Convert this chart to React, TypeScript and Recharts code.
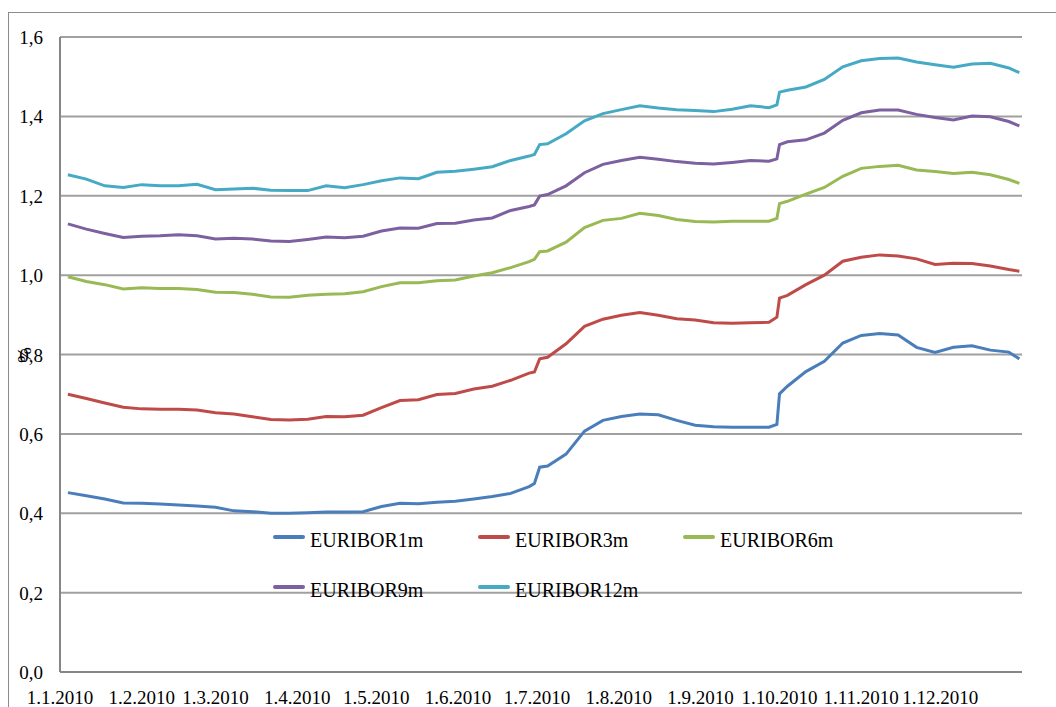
import { CartesianGrid, Line, LineChart, XAxis, YAxis } from 'recharts';

// sample dates (d.m of 2010), read off the reference roughly weekly + around the jumps
const dates = [
  '4.1', '11.1', '18.1', '25.1', '1.2', '8.2', '15.2', '22.2', '1.3', '8.3', '15.3', '22.3', '29.3',
  '5.4', '12.4', '19.4', '26.4', '3.5', '10.5', '17.5', '24.5', '31.5', '7.6', '14.6', '21.6', '28.6',
  '30.6', '2.7',
  '5.7', '12.7', '19.7', '26.7', '2.8', '9.8', '16.8', '23.8', '30.8', '6.9', '13.9', '20.9', '27.9',
  '30.9', '1.10',
  '4.10', '11.10', '18.10', '25.10', '1.11', '8.11', '15.11', '22.11', '29.11', '6.12', '13.12', '20.12', '27.12',
  '31.12',
];

const euribor1m = [
  0.452, 0.444, 0.436, 0.426, 0.425, 0.423, 0.421, 0.418, 0.415, 0.406, 0.404, 0.4, 0.4,
  0.401, 0.403, 0.403, 0.404, 0.417, 0.425, 0.424, 0.428, 0.43, 0.436, 0.442, 0.45, 0.467,
  0.475, 0.516,
  0.519, 0.549, 0.607, 0.634, 0.644, 0.65, 0.648, 0.634, 0.622, 0.618, 0.617, 0.617, 0.617,
  0.624, 0.701,
  0.72, 0.757, 0.783, 0.829, 0.848, 0.853, 0.849, 0.818, 0.805, 0.818, 0.822, 0.811, 0.806,
  0.789,
];

const euribor3m = [
  0.7, 0.689, 0.678, 0.667, 0.663, 0.662, 0.662, 0.66, 0.653, 0.65, 0.643, 0.636, 0.635,
  0.637, 0.644, 0.643, 0.647, 0.666, 0.684, 0.686, 0.699, 0.702, 0.713, 0.72, 0.735, 0.753,
  0.756, 0.789,
  0.793, 0.827, 0.871, 0.889, 0.899, 0.906, 0.899, 0.89, 0.887, 0.88, 0.879, 0.88, 0.881,
  0.894, 0.942,
  0.949, 0.976, 1.0, 1.035, 1.045, 1.051, 1.048, 1.041, 1.027, 1.03, 1.029, 1.023, 1.014,
  1.01,
];

const euribor6m = [
  0.996, 0.984, 0.976, 0.965, 0.968, 0.966, 0.966, 0.964, 0.957, 0.956, 0.952, 0.945, 0.944,
  0.949, 0.952, 0.953, 0.958, 0.971, 0.981, 0.981, 0.986, 0.988, 0.998, 1.006, 1.019, 1.034,
  1.04, 1.059,
  1.061, 1.083, 1.12, 1.138, 1.143, 1.156, 1.15, 1.14, 1.135, 1.134, 1.136, 1.136, 1.136,
  1.143, 1.18,
  1.186, 1.204, 1.221, 1.249, 1.269, 1.274, 1.277, 1.265, 1.261, 1.256, 1.259, 1.253, 1.241,
  1.231,
];

const euribor9m = [
  1.129, 1.116, 1.105, 1.095, 1.098, 1.099, 1.102, 1.099, 1.091, 1.093, 1.091, 1.086, 1.085,
  1.09, 1.096, 1.094, 1.098, 1.111, 1.119, 1.118, 1.13, 1.131, 1.139, 1.144, 1.163, 1.173,
  1.177, 1.199,
  1.203, 1.225, 1.258, 1.279, 1.289, 1.297, 1.292, 1.286, 1.282, 1.28, 1.284, 1.289, 1.287,
  1.293, 1.329,
  1.336, 1.341, 1.358, 1.39, 1.409, 1.416, 1.416, 1.405, 1.397, 1.391, 1.401, 1.399, 1.387,
  1.376,
];

const euribor12m = [
  1.253, 1.242, 1.225, 1.221, 1.228, 1.225, 1.225, 1.229, 1.215, 1.217, 1.219, 1.214, 1.213,
  1.213, 1.225, 1.22, 1.228, 1.238, 1.245, 1.243, 1.259, 1.262, 1.267, 1.273, 1.289, 1.3,
  1.304, 1.329,
  1.331, 1.356, 1.389, 1.407, 1.417, 1.427, 1.421, 1.417, 1.415, 1.412, 1.418, 1.427, 1.422,
  1.429, 1.461,
  1.466, 1.474, 1.493, 1.525, 1.54, 1.546, 1.547, 1.537, 1.53, 1.524, 1.532, 1.534, 1.522,
  1.51,
];

const monthLabels = [
  '1.1.2010', '1.2.2010', '1.3.2010', '1.4.2010', '1.5.2010', '1.6.2010',
  '1.7.2010', '1.8.2010', '1.9.2010', '1.10.2010', '1.11.2010', '1.12.2010',
];

const yTicks = [0, 0.2, 0.4, 0.6, 0.8, 1.0, 1.2, 1.4, 1.6];

const series = [
  { key: 'EURIBOR1m', values: euribor1m, color: '#4a7ebb' },
  { key: 'EURIBOR3m', values: euribor3m, color: '#be4b48' },
  { key: 'EURIBOR6m', values: euribor6m, color: '#98b954' },
  { key: 'EURIBOR9m', values: euribor9m, color: '#7d60a0' },
  { key: 'EURIBOR12m', values: euribor12m, color: '#46aac5' },
];

const FONT = 'Liberation Serif, DejaVu Serif, serif';

const dayOfYear = (s: string) => {
  const [d, m] = s.split('.').map(Number);
  return (Date.UTC(2010, m - 1, d) - Date.UTC(2010, 0, 1)) / 86400000;
};

const data = dates.map((d, i) => {
  const row: Record<string, number> = { day: dayOfYear(d) };
  series.forEach((s) => (row[s.key] = s.values[i]));
  return row;
});

const xTicks = monthLabels.map(dayOfYear);

const XTick = ({ x, y, payload }: any) => (
  <text x={x} y={y + 32} textAnchor="middle" fontSize={19} style={{ fontFamily: FONT }} fill="#000">
    {monthLabels[xTicks.indexOf(payload.value)]}
  </text>
);

const YTick = ({ x, y, payload }: any) => (
  <text x={x - 17} y={y + 7} textAnchor="end" fontSize={19} style={{ fontFamily: FONT }} fill="#000">
    {payload.value.toFixed(1).replace('.', ',')}
  </text>
);

export default function App() {
  return (
    <div style={{ position: 'relative', width: 1056, height: 707, overflow: 'hidden', fontFamily: FONT, background: '#fff' }}>
      <style>{'body{margin:0;overflow:hidden}'}</style>
      <div
        style={{
          position: 'absolute',
          left: 8,
          top: 12,
          width: 1100,
          height: 760,
          border: '1px solid #8c8c8c',
        }}
      />
      <LineChart
        width={1056}
        height={707}
        data={data}
        margin={{ top: 37, right: 34, left: 0, bottom: 0 }}
        style={{ position: 'absolute', left: 0, top: 0, fontFamily: FONT }}
      >
        <CartesianGrid vertical={false} stroke="#a0a0a0" strokeWidth={2} />
        <XAxis
          dataKey="day"
          type="number"
          domain={[0, 365]}
          ticks={xTicks}
          tick={<XTick />}
          tickLine={false}
          tickSize={0}
          tickMargin={0}
          height={35}
          interval={0}
          stroke="#868686"
          strokeWidth={2}
        />
        <YAxis
          domain={[0, 1.6]}
          ticks={yTicks}
          tick={<YTick />}
          tickLine={false}
          tickSize={0}
          tickMargin={0}
          width={60}
          interval={0}
          stroke="#868686"
          strokeWidth={2}
        />
        {series.map((s) => (
          <Line
            key={s.key}
            type="linear"
            dataKey={s.key}
            stroke={s.color}
            strokeWidth={3}
            dot={false}
            isAnimationActive={false}
          />
        ))}
      </LineChart>
      <div
        style={{
          position: 'absolute',
          left: 24,
          top: 355,
          transform: 'translate(-50%, -50%) rotate(-90deg)',
          fontSize: 19,
          lineHeight: '19px',
        }}
      >
        %
      </div>
      {series.map((s, i) => {
        const left = 273 + (i % 3) * 205;
        const lineY = 537 + Math.floor(i / 3) * 50;
        return (
          <div key={s.key}>
            <div
              style={{
                position: 'absolute',
                left,
                top: lineY - 2,
                width: 32,
                height: 4,
                borderRadius: 2,
                background: s.color,
              }}
            />
            <div
              style={{
                position: 'absolute',
                left: left + 37,
                top: lineY - 7,
                fontSize: 20,
                lineHeight: '20px',
                whiteSpace: 'nowrap',
                color: '#000',
              }}
            >
              {s.key}
            </div>
          </div>
        );
      })}
    </div>
  );
}
